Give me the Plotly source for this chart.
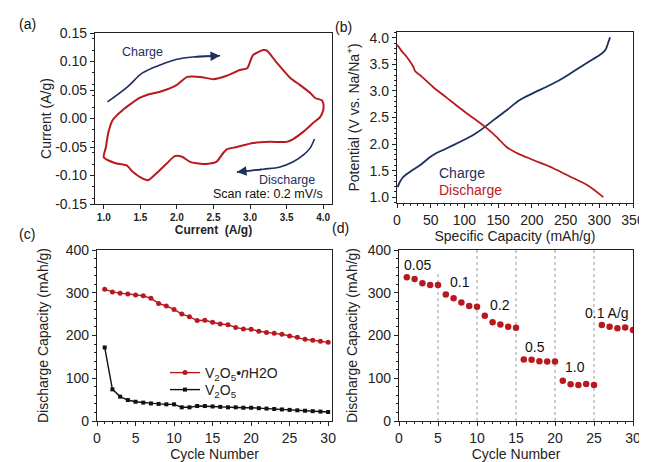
import plotly.graph_objects as go

RED = "#b8191f"
NAVY = "#1c2f5e"
FONT = "Liberation Sans, Arial, sans-serif"
PAGE_OFFSET = 8  # default body margin of the written page

# ---------------- (a) cyclic voltammogram ----------------
cv_x = [1.00, 1.03, 1.06, 1.12, 1.26, 1.49, 1.63, 1.77, 2.00, 2.14, 2.32, 2.50, 2.68, 2.86, 2.96,
        3.04, 3.18, 3.23, 3.37, 3.55, 3.68, 3.82, 3.89, 3.98, 4.00,
        4.00, 3.96, 3.86, 3.73, 3.59, 3.50, 3.27, 3.04, 2.82, 2.68, 2.63, 2.54, 2.36, 2.18, 2.07,
        1.97, 1.86, 1.72, 1.61, 1.54, 1.40, 1.31, 1.15, 1.00]
cv_y = [-0.068, -0.050, -0.026, -0.003, 0.015, 0.036, 0.043, 0.047, 0.059, 0.073, 0.073, 0.069, 0.075, 0.085, 0.088,
        0.111, 0.120, 0.119, 0.097, 0.071, 0.059, 0.045, 0.036, 0.032, 0.027,
        0.015, 0.003, -0.008, -0.023, -0.036, -0.041, -0.041, -0.043, -0.050, -0.054, -0.061, -0.076, -0.080, -0.076, -0.067,
        -0.066, -0.079, -0.096, -0.108, -0.106, -0.094, -0.082, -0.078, -0.068]
charge_arrow_x = [1.05, 1.32, 1.53, 1.77, 2.00, 2.22, 2.59]
charge_arrow_y = [0.029, 0.055, 0.080, 0.094, 0.104, 0.108, 0.110]
discharge_arrow_x = [3.88, 3.82, 3.73, 3.59, 3.41, 3.18, 2.82]
discharge_arrow_y = [-0.036, -0.052, -0.064, -0.076, -0.085, -0.089, -0.094]
a_xticks = [1.0, 1.5, 2.0, 2.5, 3.0, 3.5, 4.0]
a_yticks = [-0.15, -0.10, -0.05, 0.00, 0.05, 0.10, 0.15]

# ---------------- (b) charge / discharge profiles ----------------
ch_cap = [1, 4, 8, 14, 22, 34, 53, 74, 93, 113, 128, 143, 163, 182, 202, 222, 242, 261, 282, 301, 309, 313, 316]
ch_v = [1.19, 1.28, 1.36, 1.43, 1.50, 1.60, 1.79, 1.92, 2.04, 2.17, 2.30, 2.45, 2.64, 2.83, 2.96, 3.08, 3.21,
        3.36, 3.53, 3.68, 3.77, 3.90, 4.01]
dis_cap = [0, 3, 7, 14, 24, 27, 34, 53, 74, 93, 113, 133, 148, 163, 178, 202, 231, 261, 282, 306]
dis_v = [3.87, 3.82, 3.75, 3.65, 3.46, 3.37, 3.30, 3.08, 2.87, 2.68, 2.49, 2.30, 2.13, 1.94, 1.83, 1.70, 1.55,
         1.36, 1.23, 1.00]

# ---------------- (c) cycling ----------------
cycles = list(range(1, 31))
cap_hydrate = [308, 302, 299, 297, 295, 293, 287, 275, 269, 261, 250, 244, 235, 235.5, 231, 227, 225, 219, 215,
               214.5, 210, 207, 205, 203, 199, 196, 191, 189, 186.5, 184]
cap_v2o5 = [172, 74, 57, 49, 45, 43, 41, 40, 39, 39, 32, 32, 35, 35, 34, 33, 32, 32, 31, 31, 30, 29, 28, 27,
            26, 25, 24, 23, 22, 21]

# ---------------- (d) rate capability ----------------
cap_rate = [336, 332, 322, 318, 318, 296, 287, 277, 269, 267, 246, 231, 226, 220.5, 218, 144, 143, 140, 139, 139,
            94, 86, 84, 86.5, 84, 224.5, 220.5, 217, 219, 213]
rate_steps = [5, 10, 15, 20, 25]
rate_step_top = [345, 400, 400, 400, 400]
rate_labels = ["0.05", "0.1", "0.2", "0.5", "1.0", "0.1 A/g"]
rate_label_x = [2.4, 7.8, 13.0, 17.4, 22.6, 26.7]
rate_label_y = [365, 325, 271, 173, 126, 253]

W, H = 647, 462

def px_x(x):
    return (x - PAGE_OFFSET) / W

def px_y(y):
    return 1 - (y - PAGE_OFFSET) / H

def dom(x0, x1, y0, y1):
    return [px_x(x0), px_x(x1)], [px_y(y1), px_y(y0)]

fig = go.Figure()

# (a)
fig.add_trace(go.Scatter(x=cv_x, y=cv_y, mode="lines", line=dict(color=RED, width=2, shape="spline", smoothing=0.6),
                         xaxis="x", yaxis="y", showlegend=False))
for ax_x, ax_y in [(charge_arrow_x, charge_arrow_y), (discharge_arrow_x, discharge_arrow_y)]:
    fig.add_trace(go.Scatter(x=ax_x, y=ax_y, mode="lines", line=dict(color=NAVY, width=1.6, shape="spline"),
                             xaxis="x", yaxis="y", showlegend=False))
    fig.add_annotation(x=ax_x[-1], y=ax_y[-1], ax=ax_x[-2], ay=ax_y[-2], xref="x", yref="y", axref="x", ayref="y",
                       text="", showarrow=True, arrowhead=2, arrowsize=1.2, arrowwidth=1.6, arrowcolor=NAVY)

# (b)
fig.add_trace(go.Scatter(x=ch_cap, y=ch_v, mode="lines", line=dict(color=NAVY, width=1.8, shape="spline"),
                         xaxis="x2", yaxis="y2", showlegend=False))
fig.add_trace(go.Scatter(x=dis_cap, y=dis_v, mode="lines", line=dict(color=RED, width=1.8, shape="spline"),
                         xaxis="x2", yaxis="y2", showlegend=False))

# (c)
fig.add_trace(go.Scatter(x=cycles, y=cap_hydrate, mode="lines+markers", name="V<sub>2</sub>O<sub>5</sub>•<i>n</i>H2O",
                         line=dict(color=RED, width=1.4), marker=dict(color=RED, size=5, symbol="circle"),
                         xaxis="x3", yaxis="y3", legend="legend"))
fig.add_trace(go.Scatter(x=cycles, y=cap_v2o5, mode="lines+markers", name="V<sub>2</sub>O<sub>5</sub>",
                         line=dict(color="#111111", width=1.4), marker=dict(color="#111111", size=4, symbol="square"),
                         xaxis="x3", yaxis="y3", legend="legend2"))

# (d)
for xs, top in zip(rate_steps, rate_step_top):
    fig.add_shape(type="line", xref="x4", yref="y4", x0=xs, x1=xs, y0=0, y1=top,
                  line=dict(color="#9a9a9a", width=1, dash="dot"), layer="below")
fig.add_trace(go.Scatter(x=cycles, y=cap_rate, mode="markers", marker=dict(color=RED, size=6.5),
                         xaxis="x4", yaxis="y4", showlegend=False))
for t, lx, ly in zip(rate_labels, rate_label_x, rate_label_y):
    fig.add_annotation(x=lx, y=ly, xref="x4", yref="y4", text=t, showarrow=False,
                       font=dict(size=14, color="#111111"))

# text in (a)
fig.add_annotation(x=1.53, y=0.117, xref="x", yref="y", text="Charge", showarrow=False,
                   font=dict(size=12.5, color=NAVY))
fig.add_annotation(x=3.5, y=-0.108, xref="x", yref="y", text="Discharge", showarrow=False,
                   font=dict(size=12.5, color=NAVY))
fig.add_annotation(x=3.25, y=-0.132, xref="x", yref="y", text="Scan rate: 0.2 mV/s", showarrow=False,
                   font=dict(size=12.5, color="#111111"))
# text in (b)
fig.add_annotation(x=59, y=1.45, xref="x2", yref="y2", text="Charge", showarrow=False, xanchor="left",
                   font=dict(size=14, color=NAVY))
fig.add_annotation(x=59, y=1.13, xref="x2", yref="y2", text="Discharge", showarrow=False, xanchor="left",
                   font=dict(size=14, color=RED))

# panel letters
for lbl, px, py in [("(a)", 17, 14), ("(b)", 343, 17), ("(c)", 17, 234), ("(d)", 340, 228)]:
    fig.add_annotation(x=px_x(px), y=px_y(py), xref="paper", yref="paper", text=lbl, showarrow=False,
                       font=dict(size=14, color="#111111"))

common_axis = dict(showline=True, linecolor="#222222", linewidth=1.3, mirror=True, ticks="outside",
                   ticklen=4, tickcolor="#222222", showgrid=False, zeroline=False, automargin=False,
                   tickfont=dict(size=14, color="#222222"), title_font=dict(size=14, color="#222222"),
                   minor=dict(ticks="outside", ticklen=2, tickcolor="#222222"))

ax_dom, ay_dom = dom(95, 332, 33, 204)
bx_dom, by_dom = dom(397, 633, 32, 203)
cx_dom, cy_dom = dom(97, 332, 250, 421)
dx_dom, dy_dom = dom(399, 633, 250, 421)

legend_style = dict(xanchor="left", yanchor="middle", bgcolor="rgba(0,0,0,0)",
                    font=dict(size=14, color="#222222"), itemwidth=30)

fig.update_layout(
    width=W, height=H, margin=dict(l=0, r=0, t=0, b=0, autoexpand=False),
    paper_bgcolor="white", plot_bgcolor="white",
    font=dict(family=FONT, color="#222222"),
    xaxis=dict(common_axis, domain=ax_dom, anchor="y", range=[0.88, 4.12], tickmode="array",
               tickvals=a_xticks, ticktext=[f"{v:.1f}" for v in a_xticks],
               tickfont=dict(size=10, color="#222222", weight="bold"),
               title=dict(text="Current\u00a0 (A/g)", standoff=0, font=dict(size=12, weight="bold")),
               minor=dict(ticks="", showgrid=False)),
    yaxis=dict(common_axis, domain=ay_dom, anchor="x", range=[-0.15, 0.15], tickmode="array",
               tickvals=a_yticks, ticktext=[f"{v:.2f}" for v in a_yticks],
               title=dict(text="Current (A/g)", standoff=0)),
    xaxis2=dict(common_axis, domain=bx_dom, anchor="y2", range=[0, 350], dtick=50,
                title=dict(text="Specific Capacity (mAh/g)", standoff=2)),
    yaxis2=dict(common_axis, domain=by_dom, anchor="x2", range=[0.89, 4.11], dtick=0.5, tickformat=".1f",
                title=dict(text="Potential (V vs. Na/Na<sup>+</sup>)", standoff=6)),
    xaxis3=dict(common_axis, domain=cx_dom, anchor="y3", range=[0, 30.5], dtick=5,
                title=dict(text="Cycle Number", standoff=4)),
    yaxis3=dict(common_axis, domain=cy_dom, anchor="x3", range=[0, 400], dtick=100,
                title=dict(text="Discharge Capacity (mAh/g)", standoff=13)),
    xaxis4=dict(common_axis, domain=dx_dom, anchor="y4", range=[0, 30], dtick=5,
                title=dict(text="Cycle Number", standoff=4)),
    yaxis4=dict(common_axis, domain=dy_dom, anchor="x4", range=[0, 400], dtick=100,
                title=dict(text="Discharge Capacity (mAh/g)", standoff=6)),
    legend=dict(legend_style, x=px_x(165), y=px_y(373)),
    legend2=dict(legend_style, x=px_x(165), y=px_y(390)),
)

fig.write_html("out.html")
